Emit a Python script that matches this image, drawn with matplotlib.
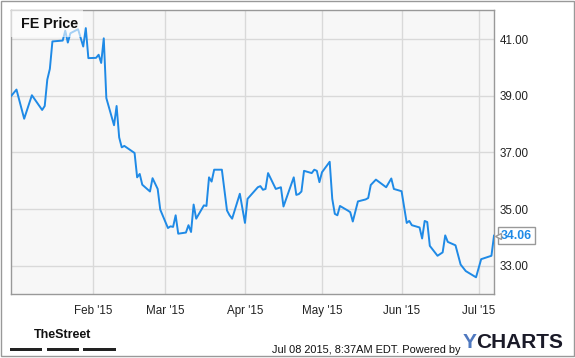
import matplotlib
matplotlib.use("Agg")
import matplotlib.pyplot as plt
import matplotlib.dates as mdates
import matplotlib.patches as mpatches
import matplotlib.transforms as mtransforms
import pandas as pd

plt.rcParams["font.family"] = ["Liberation Sans", "DejaVu Sans"]

# ---- data ----
dates = [
    "2014-12-31", "2015-01-02", "2015-01-05", "2015-01-08", "2015-01-12", "2015-01-13",
    "2015-01-14", "2015-01-15", "2015-01-16", "2015-01-20", "2015-01-21", "2015-01-22",
    "2015-01-23", "2015-01-26", "2015-01-28", "2015-01-29", "2015-01-30", "2015-02-02",
    "2015-02-03", "2015-02-04", "2015-02-05", "2015-02-06", "2015-02-09", "2015-02-10",
    "2015-02-11", "2015-02-12", "2015-02-13", "2015-02-17", "2015-02-18", "2015-02-19",
    "2015-02-20", "2015-02-23", "2015-02-24", "2015-02-26", "2015-02-27", "2015-03-02",
    "2015-03-03", "2015-03-04", "2015-03-05", "2015-03-06", "2015-03-09", "2015-03-10",
    "2015-03-11", "2015-03-12", "2015-03-13", "2015-03-16", "2015-03-17", "2015-03-18",
    "2015-03-19", "2015-03-20", "2015-03-23", "2015-03-25", "2015-03-26", "2015-03-27",
    "2015-03-30", "2015-04-01", "2015-04-02", "2015-04-06", "2015-04-07", "2015-04-08",
    "2015-04-09", "2015-04-10", "2015-04-13", "2015-04-15", "2015-04-16", "2015-04-20",
    "2015-04-21", "2015-04-22", "2015-04-23", "2015-04-24", "2015-04-27", "2015-04-28",
    "2015-04-29", "2015-04-30", "2015-05-01", "2015-05-04", "2015-05-05", "2015-05-06",
    "2015-05-07", "2015-05-08", "2015-05-11", "2015-05-12", "2015-05-13", "2015-05-15",
    "2015-05-18", "2015-05-19", "2015-05-20", "2015-05-22", "2015-05-26", "2015-05-28",
    "2015-05-29", "2015-06-01", "2015-06-03", "2015-06-04", "2015-06-05", "2015-06-08",
    "2015-06-09", "2015-06-10", "2015-06-11", "2015-06-12", "2015-06-15", "2015-06-17",
    "2015-06-18", "2015-06-19", "2015-06-22", "2015-06-24", "2015-06-26", "2015-06-30",
    "2015-07-02", "2015-07-06", "2015-07-07",
]
prices = [
    39.00, 39.22, 38.19, 39.02, 38.50, 38.64, 39.57, 39.95, 40.92, 40.95,
    41.30, 40.88, 41.21, 41.35, 40.74, 41.39, 40.33, 40.34, 40.45, 40.16,
    41.03, 38.92, 37.96, 38.64, 37.53, 37.18, 37.23, 36.98, 36.12, 36.24,
    35.86, 35.62, 36.09, 35.71, 34.98, 34.33, 34.39, 34.37, 34.78, 34.13,
    34.17, 34.43, 34.19, 35.16, 34.66, 35.13, 35.11, 36.12, 35.97, 36.39,
    36.39, 34.95, 34.78, 34.66, 35.54, 34.51, 35.36, 35.77, 35.81, 35.68,
    35.71, 36.27, 35.71, 35.77, 35.09, 36.12, 35.50, 35.53, 35.62, 36.35,
    36.27, 36.39, 36.35, 35.95, 36.30, 36.67, 35.36, 34.83, 34.78, 35.11,
    34.95, 34.89, 34.56, 35.27, 35.34, 35.39, 35.85, 36.04, 35.77, 36.08,
    35.71, 35.63, 34.51, 34.58, 34.43, 34.35, 33.96, 34.58, 34.54, 33.70,
    33.35, 33.47, 34.07, 33.84, 33.72, 33.04, 32.81, 32.59, 33.23, 33.35,
    34.06,
]
y_ticks = [33, 35, 37, 39, 41]
month_ticks = ["2015-02-01", "2015-03-01", "2015-04-01", "2015-05-01", "2015-06-01", "2015-07-01"]

title = "FE Price"
footer = "Jul 08 2015, 8:37AM EDT. Powered by"

line_color = "#1f8ae6"
frame_color = "#999999"
grid_color = "#d9d9d9"

W, H = 575, 358
x_dates = pd.to_datetime(dates)

fig = plt.figure(figsize=(W / 100, H / 100), dpi=100)
fig.patch.set_facecolor("white")

# plot area in pixel geometry
left, right, top, bottom = 10.7, 494, 10, 294
ax = fig.add_axes([left / W, 1 - bottom / H, (right - left) / W, (bottom - top) / H])
ax.set_facecolor("#f7f7f7")

ax.plot(x_dates, prices, color=line_color, lw=1.4, zorder=3, solid_joinstyle="round")

ax.set_xlim(mdates.date2num(pd.Timestamp("2014-12-31")) - 0.25,
            mdates.date2num(pd.Timestamp("2015-07-07")))
ax.set_ylim(32.0, 42.03)

ax.yaxis.tick_right()
ax.set_yticks(y_ticks)
ax.yaxis.set_major_formatter(matplotlib.ticker.FormatStrFormatter("%.2f"))
ax.set_xticks(pd.to_datetime(month_ticks))
ax.xaxis.set_major_formatter(mdates.DateFormatter("%b '%y"))
ax.tick_params(axis="both", length=0, labelsize=8.4, colors="#222222")
ax.tick_params(axis="y", pad=4)
ax.tick_params(axis="x", pad=8)
ax.grid(True, color=grid_color, lw=1.0, zorder=1)
for s in ax.spines.values():
    s.set_color(frame_color)
    s.set_linewidth(1.0)

# title box (semi transparent, sits over the line)
ax.add_patch(mpatches.Rectangle((0, 1 - 27 / 284), 72 / 483, 27 / 284, transform=ax.transAxes,
                                facecolor="white", alpha=0.6, edgecolor="none", zorder=4))
ax.text(10.5 / 483, 1 - 14 / 284, title, transform=ax.transAxes, ha="left", va="center",
        fontsize=10.3, fontweight="bold", color="#111111", zorder=5)

# last value tag
last_x, last_y = x_dates[-1], prices[-1]
ax.annotate(f"{last_y:.2f}", xy=(last_x, last_y), xytext=(5, 0), textcoords="offset points",
            ha="left", va="center", fontsize=8.8, fontweight="bold", color=line_color,
            annotation_clip=False,
            bbox=dict(boxstyle="square,pad=0.22", fc="white", ec=frame_color, lw=1.0),
            zorder=6)
tri = mtransforms.offset_copy(ax.transData, fig=fig, x=3.0, y=0, units="points")
ax.plot([last_x], [last_y], marker="<", ms=4.5, mfc="white", mec=frame_color, mew=1.0,
        transform=tri, clip_on=False, zorder=7)

# footer
fig.text(460 / W, 1 - 350 / H, footer, ha="right", va="center", fontsize=7.9, color="#111111")
fig.text(463 / W, 1 - 342 / H, "Y", ha="left", va="center", fontsize=15, fontweight="bold",
         color="#4f78bf")
fig.text(476.5 / W, 1 - 342 / H, "CHARTS", ha="left", va="center", fontsize=15,
         fontweight="bold", color="#1a1a28")

fig.text(63 / W, 1 - 335 / H, "TheStreet", ha="center", va="center", fontsize=9,
         fontweight="bold", color="#111111")
for x0, x1 in [(10, 42), (47, 79), (83, 116)]:
    fig.add_artist(mpatches.Rectangle((x0 / W, 1 - 351 / H), (x1 - x0) / W, 3 / H,
                                      transform=fig.transFigure, facecolor="#222222",
                                      edgecolor="none"))

# outer border
fig.add_artist(mpatches.Rectangle((1 / W, 1 - 355.5 / H), 573 / W, 354.5 / H,
                                  transform=fig.transFigure, facecolor="none",
                                  edgecolor=frame_color, lw=1.0))

fig.savefig("out.png", dpi=100)
